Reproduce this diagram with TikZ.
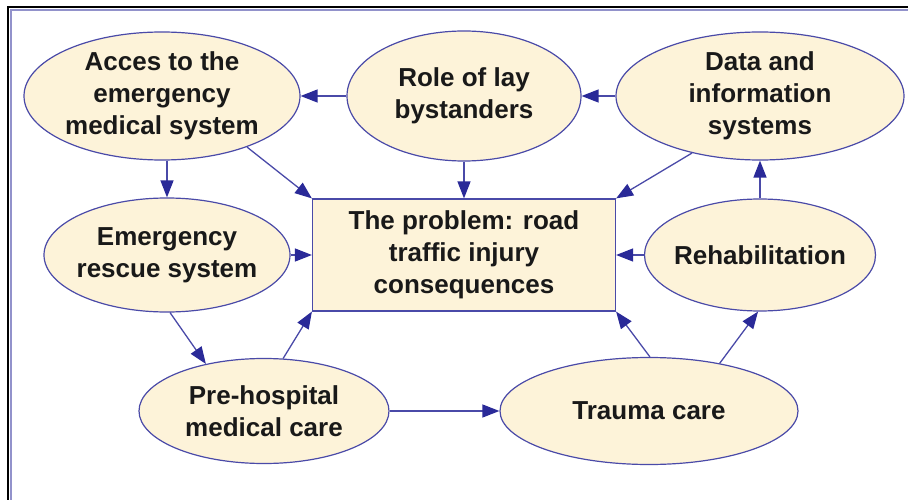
\documentclass[tikz,border=0pt]{standalone}
\usepackage{fontspec}
\setmainfont{Liberation Sans}
\usetikzlibrary{shapes.geometric,arrows.meta}
\definecolor{mycream}{HTML}{FDF3D9}
\definecolor{myblue}{HTML}{4A4AA8}
\definecolor{mydark}{HTML}{2A2A98}

\begin{document}
\begin{tikzpicture}[x=1pt,y=-1pt]
\useasboundingbox (0,0) rectangle (908,500);
\draw[line width=2.5pt] (8,500) -- (8,7) -- (908,7);
\draw[myblue!60,line width=1.5pt] (11,500) -- (11,10) -- (908,10);
\tikzset{box/.style={draw=myblue, fill=mycream, line width=1.2pt, inner sep=0pt, align=center, text=black!90, font=\fontsize{26}{32}\selectfont\bfseries}}
\tikzset{oval/.style={box, ellipse, inner xsep=-8pt}}
\tikzset{arr/.style={draw=myblue, line width=1.3pt, -{Triangle[length=17pt,width=13pt,color=mydark]}}}
\node[oval, minimum width=276pt, minimum height=128pt] (acces) at (162,96) {Acces to the\\emergency\\medical system};
\node[oval, minimum width=234pt, minimum height=130pt] (role) at (464,96) {Role of lay\\bystanders};
\node[oval, minimum width=288pt, minimum height=128pt] (data) at (760,96) {Data and\\information\\systems};
\node[box, minimum width=303pt, minimum height=112pt] (prob) at (464,255) {The problem: road\\traffic injury\\consequences};
\node[oval, minimum width=246pt, minimum height=114pt] (emerg) at (167,255) {Emergency\\rescue system};
\node[oval, minimum width=231pt, minimum height=112pt] (rehab) at (760,255) {Rehabilitation};
\node[oval, minimum width=250pt, minimum height=105pt] (prehosp) at (264,411) {Pre-hospital\\medical care};
\node[oval, minimum width=298pt, minimum height=107pt] (trauma) at (649,411) {Trauma care};
\draw[arr] (role) -- (acces);
\draw[arr] (data) -- (role);
\draw[arr] (acces.south -| emerg) -- (emerg);
\draw[arr] (acces.-31) -- (prob.north west);
\draw[arr] (role) -- (prob);
\draw[arr] (data.220) -- (prob.north east);
\draw[arr] (rehab) -- (data);
\draw[arr] (rehab) -- (prob);
\draw[arr] (emerg) -- (prob);
\draw[arr] (emerg.-87) -- (prehosp.141);
\draw[arr] (prehosp.70) -- (prob.south west);
\draw[arr] (prehosp) -- (trauma);
\draw[arr] (trauma.89) -- (prob.south east);
\draw[arr] (trauma.34) -- (rehab.-92);
\end{tikzpicture}
\end{document}
